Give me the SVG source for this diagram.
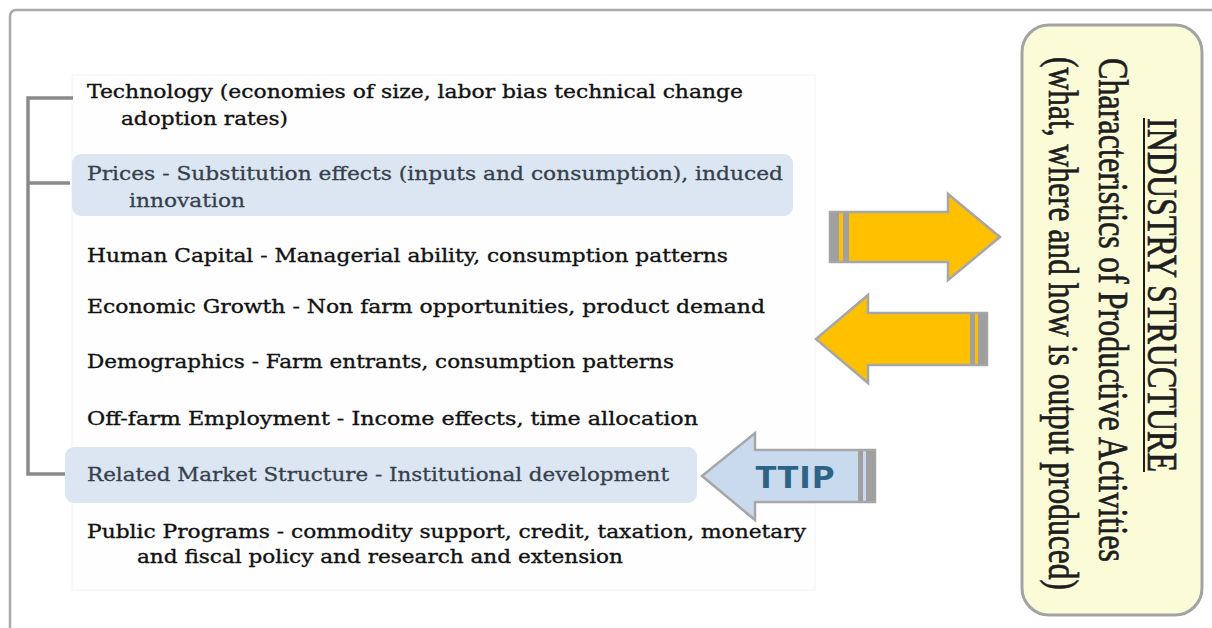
<svg xmlns="http://www.w3.org/2000/svg" width="1212" height="628" viewBox="0 0 1212 628">
<style>
.t{font-family:"DejaVu Serif","Liberation Serif",serif;font-size:19px;fill:#111;stroke:#111;stroke-width:0.35}
.tb{font-family:"DejaVu Serif","Liberation Serif",serif;font-size:19px;fill:#35404c;stroke:#35404c;stroke-width:0.3}
.v{font-family:"Liberation Serif","Times New Roman",serif;font-size:42px;fill:#1e1e1e;stroke:#1e1e1e;stroke-width:0.7}
.hl{fill:#dce6f2}
.ya{fill:#ffc000;stroke:#a6a6a6;stroke-width:2.5;stroke-linejoin:miter}
.ba{fill:#c9daee;stroke:#a6a6a6;stroke-width:2.5}
.strip{fill:#a0a0a0}
.br{fill:none;stroke:#8a8a8a;stroke-width:3.5}
</style>
<rect width="1212" height="628" fill="#fff"/>
<rect x="10" y="10" width="1230" height="650" rx="6" fill="none" stroke="#a9a9a9" stroke-width="2.5"/>
<rect x="72" y="75" width="743" height="515" fill="#fefefe" stroke="#f3f3f3" stroke-width="1"/>

<g id="connectors">
  <path class="br" d="M73 98 H28 V474 H68 M28 183 H70"/>
</g>

<g id="node-technology">
  <text class="t" x="87" y="98" textLength="656" lengthAdjust="spacingAndGlyphs">Technology (economies of size, labor bias technical change</text>
  <text class="t" x="121" y="125" textLength="167" lengthAdjust="spacingAndGlyphs">adoption rates)</text>
</g>
<g id="node-prices">
  <rect class="hl" x="72" y="154" width="721" height="62" rx="9"/>
  <text class="tb" x="87" y="180" textLength="696" lengthAdjust="spacingAndGlyphs">Prices - Substitution effects (inputs and consumption), induced</text>
  <text class="tb" x="129" y="207" textLength="116" lengthAdjust="spacingAndGlyphs">innovation</text>
</g>
<g id="node-human-capital">
  <text class="t" x="87" y="262" textLength="641" lengthAdjust="spacingAndGlyphs">Human Capital - Managerial ability, consumption patterns</text>
</g>
<g id="node-economic-growth">
  <text class="t" x="87" y="313" textLength="678" lengthAdjust="spacingAndGlyphs">Economic Growth - Non farm opportunities, product demand</text>
</g>
<g id="node-demographics">
  <text class="t" x="87" y="368" textLength="587" lengthAdjust="spacingAndGlyphs">Demographics - Farm entrants, consumption patterns</text>
</g>
<g id="node-off-farm">
  <text class="t" x="87" y="425" textLength="611" lengthAdjust="spacingAndGlyphs">Off-farm Employment - Income effects, time allocation</text>
</g>
<g id="node-related-market">
  <rect class="hl" x="65" y="447" width="632" height="56" rx="9"/>
  <text class="tb" x="87" y="481" textLength="582" lengthAdjust="spacingAndGlyphs">Related Market Structure - Institutional development</text>
</g>
<g id="node-public-programs">
  <text class="t" x="87" y="538" textLength="719" lengthAdjust="spacingAndGlyphs">Public Programs - commodity support, credit, taxation, monetary</text>
  <text class="t" x="137" y="563" textLength="486" lengthAdjust="spacingAndGlyphs">and fiscal policy and research and extension</text>
</g>

<g id="arrow-right">
  <path class="ya" d="M830 212 H948 V194 L1000 237 L948 280 V262 H830 Z"/>
  <rect class="strip" x="830" y="213" width="9" height="48"/>
  <rect class="strip" x="843" y="213" width="6" height="48"/>
</g>
<g id="arrow-left">
  <path class="ya" d="M987 313 H868 V295 L816 339 L868 383 V365 H987 Z"/>
  <rect class="strip" x="970" y="314" width="5" height="50"/>
  <rect class="strip" x="978" y="314" width="9" height="50"/>
</g>
<g id="arrow-ttip">
  <path class="ba" d="M875 450 H755 V433 L702 476 L755 520 V502 H875 Z"/>
  <rect class="strip" x="858" y="451" width="5" height="50"/>
  <rect class="strip" x="866" y="451" width="9" height="50"/>
  <text x="795" y="488" text-anchor="middle" font-family="'Open Sans','DejaVu Sans',sans-serif" font-weight="bold" font-size="31" fill="#2d6486" textLength="80" lengthAdjust="spacingAndGlyphs">TTIP</text>
</g>

<g id="node-industry-structure">
  <rect x="1022" y="25" width="180" height="590" rx="27" fill="#fbfbd8" stroke="#a3a3a3" stroke-width="3"/>
  <text class="v" transform="translate(1148,118) rotate(90)" x="0" y="0" textLength="354" lengthAdjust="spacingAndGlyphs">INDUSTRY STRUCTURE</text>
  <line x1="1144" y1="118" x2="1144" y2="472" stroke="#1e1e1e" stroke-width="2"/>
  <text class="v" transform="translate(1099,58) rotate(90)" x="0" y="0" textLength="504" lengthAdjust="spacingAndGlyphs">Characteristics of Productive Activities</text>
  <text class="v" transform="translate(1049,57) rotate(90)" x="0" y="0" textLength="533" lengthAdjust="spacingAndGlyphs">(what, where and how is output produced)</text>
</g>
</svg>
